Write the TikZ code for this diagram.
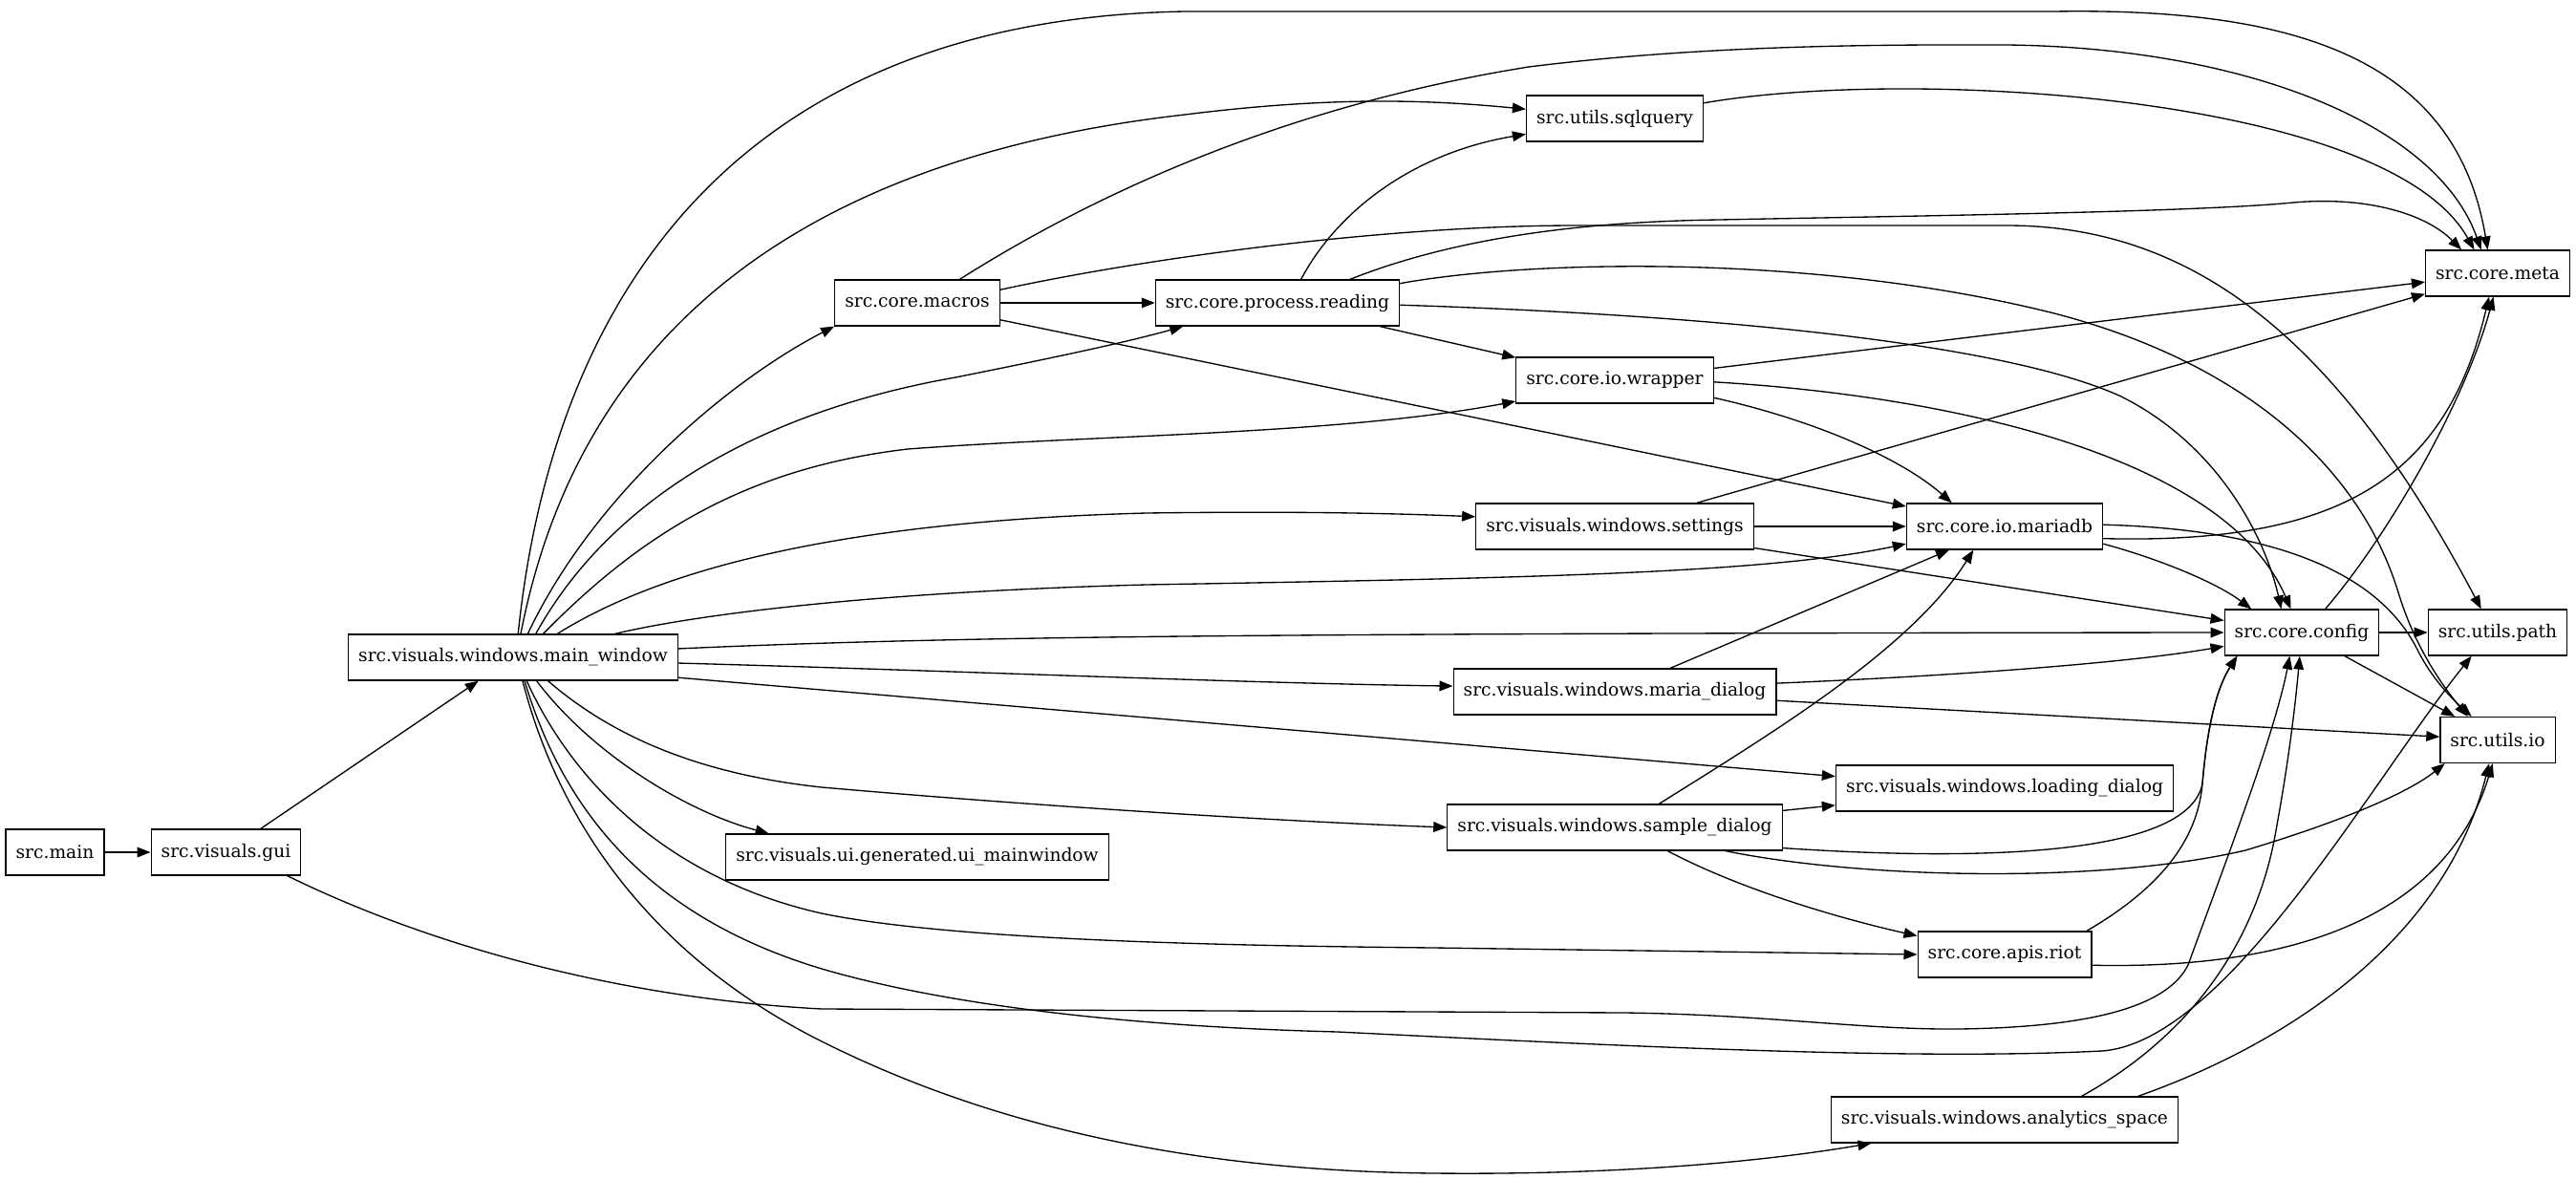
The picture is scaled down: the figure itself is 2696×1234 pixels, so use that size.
\documentclass[tikz,border=0pt]{standalone}
\usepackage{fontspec}
\setmainfont{DejaVu Serif}
\usetikzlibrary{arrows.meta}

\begin{document}
\begin{tikzpicture}[
  x=0.75pt,y=-0.75pt,
  mod/.style={draw=black,line width=0.9pt,rectangle,minimum height=36pt,
    inner xsep=7.92pt,inner ysep=0pt,font=\fontsize{14pt}{17pt}\selectfont},
  dep/.style={draw=black,line width=1pt,-{Triangle[length=10.5pt,width=8pt]}}
]
  \useasboundingbox (0,0) rectangle (2696,1234);

  \node[mod] (main) at (57.5,892) {src.main};
  \node[mod] (gui) at (236.5,892) {src.visuals.gui};
  \node[mod] (mainwin) at (537,688) {src.visuals.windows.main\_window};
  \node[mod] (uimain) at (960,897) {src.visuals.ui.generated.ui\_mainwindow};
  \node[mod] (macros) at (960,317) {src.core.macros};
  \node[mod] (reading) at (1337,317) {src.core.process.reading};
  \node[mod] (sqlquery) at (1690,124) {src.utils.sqlquery};
  \node[mod] (wrapper) at (1690,398) {src.core.io.wrapper};
  \node[mod] (settings) at (1690,551) {src.visuals.windows.settings};
  \node[mod] (mariadb) at (2098,551) {src.core.io.mariadb};
  \node[mod] (mariadlg) at (1690,724) {src.visuals.windows.maria\_dialog};
  \node[mod] (loaddlg) at (2098,825) {src.visuals.windows.loading\_dialog};
  \node[mod] (sampledlg) at (1690,866) {src.visuals.windows.sample\_dialog};
  \node[mod] (riot) at (2098,999) {src.core.apis.riot};
  \node[mod] (analytics) at (2098,1172) {src.visuals.windows.analytics\_space};
  \node[mod] (config) at (2409,662) {src.core.config};
  \node[mod] (meta) at (2614,286) {src.core.meta};
  \node[mod] (upath) at (2614,662) {src.utils.path};
  \node[mod] (uio) at (2614,774.5) {src.utils.io};

  \draw[dep] (main) -- (gui);
  \draw[dep] (gui) -- (mainwin);
  \draw[dep] (gui.-21) .. controls (450,990) and (650,1045) .. (860,1056)
    -- (1700,1060) .. controls (1850,1062) and (1950,1078) .. (2050,1077)
    .. controls (2200,1075) and (2270,1050) .. (2290,1010)
    .. controls (2330,900) and (2380,770) .. (config.-117);

  \draw[dep] (mainwin.78) .. controls (580,300) and (780,20) .. (1240,12)
    -- (2150,12) .. controls (2400,8) and (2570,60) .. (meta.113);
  \draw[dep] (mainwin.72) .. controls (600,380) and (800,170) .. (1240,120)
    .. controls (1400,100) and (1500,105) .. (sqlquery.174);
  \draw[dep] (mainwin.58) .. controls (620,520) and (760,400) .. (macros.south west);
  \draw[dep] (mainwin.46) .. controls (640,520) and (800,430) .. (1000,395)
    .. controls (1100,375) and (1180,358) .. (reading.-166);
  \draw[dep] (mainwin.38) .. controls (670,560) and (780,490) .. (950,470)
    .. controls (1150,455) and (1400,455) .. (wrapper.-168);
  \draw[dep] (mainwin.28) .. controls (700,590) and (900,545) .. (1200,537)
    .. controls (1350,535) and (1450,537) .. (settings.176);
  \draw[dep] (mainwin.13) .. controls (720,645) and (900,620) .. (1200,612)
    .. controls (1600,605) and (1850,600) .. (mariadb.-170);
  \draw[dep] (mainwin.3) .. controls (1000,666) and (1300,663) .. (config.west);
  \draw[dep] (mainwin.-2) .. controls (1000,702) and (1300,715) .. (mariadlg.178);
  \draw[dep] (mainwin.-7) -- (loaddlg.176);
  \draw[dep] (mainwin.-34) .. controls (640,770) and (730,810) .. (860,824)
    .. controls (1100,845) and (1350,860) .. (sampledlg.west);
  \draw[dep] (mainwin.-45) .. controls (620,790) and (720,850) .. (uimain.171);
  \draw[dep] (mainwin.-60) .. controls (600,820) and (700,920) .. (860,956)
    .. controls (1000,985) and (1300,990) .. (1500,992) -- (riot.west);
  \draw[dep] (mainwin.-64) .. controls (590,850) and (680,960) .. (860,1014)
    .. controls (1000,1055) and (1200,1075) .. (1400,1080)
    .. controls (1700,1095) and (2000,1110) .. (2200,1100)
    .. controls (2330,1090) and (2480,820) .. (upath.-138);
  \draw[dep] (mainwin.-68) .. controls (590,880) and (700,1010) .. (860,1090)
    .. controls (1000,1160) and (1200,1225) .. (1500,1228)
    .. controls (1700,1230) and (1850,1215) .. (analytics.-170);

  \draw[dep] (macros) -- (reading);
  \draw[dep] (macros.29) .. controls (1150,200) and (1350,110) .. (1600,70)
    .. controls (1800,45) and (2000,47) .. (2100,47)
    .. controls (2350,50) and (2550,130) .. (meta.125);
  \draw[dep] (macros.9) .. controls (1200,270) and (1450,236) .. (1650,236)
    -- (2100,236) .. controls (2300,236) and (2450,360) .. (upath.125);
  \draw[dep] (macros) -- (mariadb);

  \draw[dep] (reading.45) .. controls (1400,220) and (1480,160) .. (sqlquery.-170);
  \draw[dep] (reading.18) .. controls (1520,250) and (1650,232) .. (1800,230)
    .. controls (2000,226) and (2300,222) .. (2400,212)
    .. controls (2480,205) and (2540,225) .. (meta.147);
  \draw[dep] (reading) -- (wrapper);
  \draw[dep] (reading.-1) .. controls (1800,330) and (2100,360) .. (2220,415)
    .. controls (2320,465) and (2370,560) .. (config.131);
  \draw[dep] (reading.9) .. controls (1600,272) and (1900,265) .. (2150,328)
    .. controls (2350,380) and (2470,490) .. (2510,620)
    .. controls (2525,670) and (2550,710) .. (uio.142);

  \draw[dep] (sqlquery) .. controls (2000,70) and (2500,100) .. (meta.135);

  \draw[dep] (wrapper) -- (meta);
  \draw[dep] (wrapper.-10) .. controls (1900,440) and (1990,480) .. (mariadb.156);
  \draw[dep] (wrapper.-1) .. controls (2050,415) and (2330,480) .. (config.115);

  \draw[dep] (settings) -- (meta);
  \draw[dep] (settings) -- (mariadb);
  \draw[dep] (settings) -- (config);

  \draw[dep] (mariadb.-7) .. controls (2450,570) and (2560,500) .. (meta.-110);
  \draw[dep] (mariadb.-10) .. controls (2260,585) and (2320,610) .. (config.155);
  \draw[dep] (mariadb.1) .. controls (2420,555) and (2500,620) .. (2530,680)
    .. controls (2545,710) and (2565,730) .. (uio.138);

  \draw[dep] (config.45) .. controls (2500,560) and (2580,420) .. (meta.-100);
  \draw[dep] (config) -- (upath);
  \draw[dep] (config) -- (uio);

  \draw[dep] (mariadlg) -- (mariadb);
  \draw[dep] (mariadlg.3) .. controls (2100,705) and (2250,690) .. (config.-170);
  \draw[dep] (mariadlg) -- (uio);

  \draw[dep] (sampledlg.28) .. controls (1850,770) and (2000,680) .. (mariadb.-143);
  \draw[dep] (sampledlg) -- (loaddlg);
  \draw[dep] (sampledlg.-7) .. controls (2050,900) and (2290,900) .. (2305,820)
    .. controls (2310,760) and (2320,720) .. (config.-160);
  \draw[dep] (sampledlg.-12) .. controls (1950,920) and (2200,925) .. (2350,890)
    .. controls (2450,860) and (2520,830) .. (uio.-156);
  \draw[dep] (sampledlg.-24) .. controls (1820,930) and (1920,960) .. (riot.168);

  \draw[dep] (riot.16) .. controls (2260,930) and (2300,880) .. (2305,820)
    .. controls (2310,760) and (2320,720) .. (config.-160);
  \draw[dep] (riot.-7) .. controls (2400,1015) and (2560,960) .. (uio.-102);

  \draw[dep] (analytics.17) .. controls (2300,1080) and (2360,980) .. (2380,880)
    .. controls (2395,800) and (2402,740) .. (config.-95);
  \draw[dep] (analytics.10) .. controls (2400,1090) and (2560,980) .. (uio.-110);
\end{tikzpicture}
\end{document}
